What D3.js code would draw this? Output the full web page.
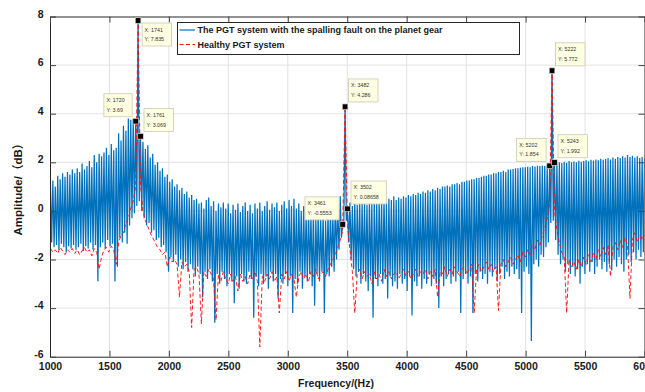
<!DOCTYPE html>
<html>
<head>
<meta charset="utf-8">
<script src="https://cdn.jsdelivr.net/npm/d3@7"></script>
<style>
  body { margin: 0; background: #fff; }
  svg { display: block; }
  text { font-family: "Liberation Sans", Arial, "Noto Sans CJK SC", sans-serif; }
</style>
</head>
<body>
<svg id="chart" width="645" height="392"></svg>
<script>
// Spectrum bins: 20.48 Hz apart, first shown bin is 49 (1003.5 Hz)
const binHz = 20.48;
const firstBin = 49;

const xTicks = [1000, 1500, 2000, 2500, 3000, 3500, 4000, 4500, 5000, 5500, 6000];
const yTicks = [-6, -4, -2, 0, 2, 4, 6, 8];

// Faulty gearbox: amplitude at each bin (dB), bins 49..293
const faultPeaks = [
  1.1, 1.25, 1.0, 1.45, 1.3, 1.55, 1.4, 1.6, 1.5, 1.7, 1.55, 1.75, 1.6, 1.95, 1.7, 1.85, 2.05, 1.8,
  2.3, 2.0, 2.35, 2.25, 2.4, 2.6, 2.3, 2.75, 2.5, 2.6, 3.2, 2.9, 3.5, 3.3, 3.8, 3.75, 3.8, 3.69,
  7.835, 3.069,
  2.85, 2.55, 2.7, 2.2, 2.35, 1.9, 2.0, 1.65, 1.75, 1.4, 1.5, 1.2, 1.3, 1.0, 1.1, 0.85, 0.95, 0.7,
  0.8, 0.55, 0.65, 0.45, 0.5, 0.3, 0.35, 0.1, 0.45, 0.55, 0.2, 0.4, 0.0, 0.3, 0.15, 0.35, 0.1, 0.3,
  -0.1, 0.25, 0.05, 0.3, -0.05, 0.2, 0.35, 0.0, 0.25, -0.1, 0.3, 0.1, 0.35, 0.0, 0.2, 0.4, 0.05, 0.3,
  0.15, 0.35, 0.0, 0.25, 0.4, 0.1, 0.45, 0.2, 0.5, 0.1, 0.3, 0.0, 0.2, -0.15, 0.1, -0.2, 0.05, -0.3,
  0.0, -0.35, -0.1, -0.4, -0.15, 0.1, -0.2, 0.35, 0.1, 0.6, -0.5553,
  4.286,
  0.08658, 0.35, 0.2, 0.4, 0.25, 0.45, 0.3, 0.4, 0.25, 0.45, 0.35, 0.5, 0.3, 0.45, 0.4, 0.55, 0.35,
  0.5, 0.45, 0.6, 0.45, 0.55, 0.5, 0.6, 0.55, 0.65, 0.6, 0.7, 0.65, 0.75, 0.7, 0.8, 0.75, 0.85, 0.8,
  0.9, 0.85, 0.95, 0.9, 1.0, 1.0, 1.05, 1.0, 1.1, 1.1, 1.15, 1.1, 1.2, 1.2, 1.25, 1.25, 1.3, 1.3,
  1.35, 1.35, 1.4, 1.45, 1.45, 1.5, 1.5, 1.55, 1.55, 1.6, 1.6, 1.65, 1.6, 1.7, 1.7, 1.72, 1.75, 1.75,
  1.78, 1.8, 1.8, 1.82, 1.8, 1.85, 1.83, 1.86, 1.85, 1.87, 1.85, 1.88, 1.854,
  5.772,
  1.992, 1.95, 2.0, 1.97, 2.02, 1.98, 2.05, 2.0, 2.03, 2.0, 2.06, 2.02, 2.05, 2.08, 2.04, 2.1, 2.07,
  2.12, 2.08, 2.15, 2.1, 2.14, 2.18, 2.12, 2.2, 2.15, 2.22, 2.18, 2.25, 2.2, 2.3, 2.22, 2.27, 2.2,
  2.25, 2.18, 2.22, 2.2
];

// Faulty gearbox: amplitude at the half bins in between (49.5..292.5)
const faultValleys = [
  -1.3, -1.5, -1.4, -1.6, -1.35, -1.5, -1.7, -1.45, -1.55, -1.4, -1.6, -1.5, -1.35, -1.65, -1.45,
  -1.55, -1.3, -1.6, -1.4, -2.9, -1.5, -1.3, -1.55, -1.2, -1.45, -1.35, -2.9, -2.3, -1.1, -1.3, -0.9,
  -1.35, -0.6, -0.3, -0.1, 0.2,
  0.4, 0.0, -0.3, -0.6, -0.5, -0.9, -0.8, -1.2, -1.1, -1.5, -1.4, -1.7, -2.5, -1.9, -2.1, -1.8, -2.3,
  -2.0, -2.4, -2.1, -2.5, -2.2, -2.4, -2.7, -2.3, -2.6, -3.55, -2.5, -2.8, -2.4, -2.9, -4.6, -2.6,
  -3.0, -2.5, -2.8, -3.1, -2.6, -2.9, -3.8, -2.7, -3.2, -2.6, -2.9, -3.0, -2.5, -2.8, -4.4, -2.7,
  -3.1, -2.6, -3.0, -2.7, -3.2, -2.5, -2.9, -2.6, -3.6, -2.8, -3.0, -2.6, -3.1, -2.7, -4.2, -2.8,
  -3.0, -2.5, -3.2, -2.7, -2.9, -2.6, -3.1, -3.9, -2.6, -2.9, -2.5, -4.2, -2.6, -2.7, -2.3, -2.5,
  -2.0, -1.6, -1.1, -0.4,
  -0.4, -1.3, -2.0, -2.4, -2.7, -2.5, -3.0, -2.6, -2.9, -3.3, -2.7, -4.4, -2.8, -3.1, -2.6, -3.0,
  -2.8, -3.6, -2.7, -3.1, -2.9, -3.2, -2.6, -3.0, -2.8, -3.3, -2.7, -4.3, -2.9, -3.1, -2.7, -3.2,
  -2.8, -3.0, -2.6, -3.1, -2.8, -3.0, -4.0, -2.7, -3.1, -2.8, -2.6, -3.0, -2.7, -2.9, -2.5, -4.2,
  -2.8, -2.6, -3.0, -2.7, -4.2, -2.6, -2.9, -2.5, -2.8, -2.6, -3.0, -2.5, -2.7, -2.4, -2.9, -2.6,
  -2.3, -2.8, -2.5, -2.7, -2.3, -2.6, -2.4, -2.8, -4.2, -2.5, -2.3, -2.6, -5.35, -2.2, -2.0, -2.3,
  -1.8, -1.9, -1.5, -1.3, -0.5,
  -0.4, -1.2, -1.8, -2.2, -2.0, -2.5, -2.2, -2.6, -2.3, -2.7, -2.4, -3.0, -2.3, -2.6, -2.2, -2.5,
  -2.1, -2.6, -2.3, -2.0, -2.4, -2.1, -2.5, -2.2, -2.45, -2.0, -2.3, -1.9, -2.2, -2.5, -2.0, -1.8,
  -2.1, -1.7, -2.0, -1.6, -1.9, -1.7
];

// Healthy gearbox: amplitude at each bin (dB), bins 49..293
const healthy = [
  -1.55, -1.7, -1.6, -1.75, -1.5, -1.65, -1.8, -1.6, -1.7, -1.55, -1.75, -1.6, -1.8, -1.65, -1.5,
  -1.7, -1.6, -1.85, -1.55, -1.7, -2.4, -1.9, -1.6, -1.5, -1.7, -1.45, -1.6, -2.2, -1.3, -1.0, -0.9,
  -0.5, -0.3, 0.1, 0.4, 1.0,
  7.835, 1.1,
  0.0, -0.4, -0.65, -0.9, -1.1, -1.3, -1.5, -1.6, -1.8, -1.7, -2.3, -1.9, -2.1, -2.0, -2.2, -3.55,
  -2.1, -2.3, -2.2, -2.5, -4.8, -2.4, -2.3, -2.6, -4.65, -2.5, -2.7, -2.4, -2.6, -2.8, -4.5, -2.6,
  -2.9, -2.5, -2.8, -3.0, -2.6, -2.9, -2.7, -3.3, -2.6, -2.9, -2.7, -3.0, -2.6, -2.8, -2.5, -2.9,
  -5.6, -2.7, -2.9, -2.6, -2.8, -2.5, -2.9, -2.7, -4.2, -2.6, -2.8, -2.5, -2.9, -2.6, -2.8, -3.55,
  -2.7, -2.5, -2.8, -2.6, -2.9, -2.5, -2.7, -2.4, -2.8, -2.6, -2.5, -2.7, -2.4, -2.2, -2.0, -1.8,
  -1.5, -1.2, -0.8,
  4.286,
  -0.6, -1.6, -2.5, -4.2, -2.6, -2.4, -2.8, -2.5, -2.7, -2.6, -3.0, -2.5, -2.8, -2.6, -2.9, -2.4,
  -2.7, -2.5, -2.8, -2.6, -2.5, -2.8, -2.6, -2.4, -2.7, -2.5, -2.8, -2.6, -2.4, -2.7, -2.5, -2.6,
  -2.4, -2.8, -2.5, -2.7, -2.4, -3.55, -2.5, -2.6, -2.3, -2.7, -2.4, -2.6, -2.3, -2.5, -2.7, -2.4,
  -2.3, -2.6, -2.4, -2.2, -4.2, -2.4, -2.2, -2.5, -2.3, -2.1, -2.4, -2.2, -2.5, -2.3, -4.1, -2.2,
  -2.0, -2.3, -2.1, -1.9, -2.2, -2.0, -1.8, -2.1, -1.7, -1.9, -1.6, -1.8, -1.4, -1.6, -1.2, -1.4,
  -1.0, -0.7, -0.3, 0.3,
  5.772,
  0.0, -0.8, -1.3, -1.7, -1.9, -4.2, -2.0, -2.3, -2.1, -2.4, -2.0, -2.3, -1.9, -2.2, -1.8, -2.1,
  -1.7, -2.0, -1.6, -1.9, -1.5, -1.8, -1.4, -2.7, -1.5, -1.3, -1.6, -1.2, -1.5, -1.1, -1.4, -3.6,
  -1.2, -0.9, -1.3, -1.0, -1.2, -0.9
];

// Data tips on the faulty spectrum: bin numbers and box side
const tipBins = [84, 85, 86, 169, 170, 171, 254, 255, 256];
const tipSides = ["ul", "lr", "ur", "ul", "ur", "ur", "ul", "ur", "ur"];

const seriesNames = [
  "The PGT system with the spalling fault on the planet gear",
  "Healthy PGT system"
];

const locale = d3.formatLocale({ decimal: ".", thousands: ",", grouping: [3], currency: ["", ""], minus: "-" });
const fmtTick = locale.format("d");
const fmtVal = locale.format(".4~g");

const svg = d3.select("#chart");
const plotL = 50, plotR = 644.5, plotT = 16.5, plotB = 356.7;
const x = d3.scaleLinear().domain([1000, 6000]).range([plotL, plotR]);
const y = d3.scaleLinear().domain([-6, 8]).range([plotB, plotT]);

const fault = [];
faultPeaks.forEach((v, i) => {
  fault.push([(firstBin + i) * binHz, v]);
  if (i < faultValleys.length) fault.push([(firstBin + i + 0.5) * binHz, faultValleys[i]]);
});
const healthySeries = healthy.map((v, i) => [(firstBin + i) * binHz, v]);

svg.append("rect").attr("width", 645).attr("height", 392).attr("fill", "#fff");

svg.append("defs").append("clipPath").attr("id", "plotClip")
  .append("rect").attr("x", plotL).attr("y", plotT).attr("width", plotR - plotL).attr("height", plotB - plotT);

// grid
const grid = svg.append("g").attr("stroke", "#e2e2e2").attr("stroke-width", 1);
grid.selectAll("line.gx").data(xTicks.slice(1, -1)).join("line").attr("class", "gx")
  .attr("x1", d => x(d)).attr("x2", d => x(d)).attr("y1", plotT).attr("y2", plotB);
grid.selectAll("line.gy").data(yTicks.slice(1, -1)).join("line").attr("class", "gy")
  .attr("x1", plotL).attr("x2", plotR).attr("y1", d => y(d)).attr("y2", d => y(d));

const line = d3.line().x(d => x(d[0])).y(d => y(d[1]));
const plot = svg.append("g").attr("clip-path", "url(#plotClip)");
plot.append("path").datum(fault).attr("d", line)
  .attr("fill", "none").attr("stroke", "#0072BD").attr("stroke-width", 1.25).attr("stroke-linejoin", "miter");
plot.append("path").datum(healthySeries).attr("d", line)
  .attr("fill", "none").attr("stroke", "#ff1010").attr("stroke-width", 1)
  .attr("stroke-dasharray", "4,2.5").attr("opacity", 0.95);

// axes (ticks point inward)
function styleAxis(g) {
  g.select(".domain").attr("stroke", "#262626").attr("stroke-width", 1);
  g.selectAll(".tick line").attr("stroke", "#444");
  g.selectAll(".tick text").attr("fill", "#1a1a1a").attr("font-size", "10.5px")
    .attr("font-weight", "bold").attr("font-family", "Liberation Sans, Arial, sans-serif");
}
svg.append("g").attr("transform", `translate(0,${plotB})`)
  .call(d3.axisBottom(x).tickValues(xTicks).tickFormat(fmtTick).tickSize(-6).tickSizeOuter(0).tickPadding(5.5))
  .call(styleAxis);
svg.append("g").attr("transform", `translate(${plotL},0)`)
  .call(d3.axisLeft(y).tickValues(yTicks).tickFormat(fmtTick).tickSize(-6).tickSizeOuter(0).tickPadding(6.5))
  .call(styleAxis)
  .selectAll(".tick text").attr("dy", "0.05em");
svg.append("g").attr("transform", `translate(0,${plotT})`)
  .call(d3.axisTop(x).tickValues(xTicks).tickFormat("").tickSize(-6).tickSizeOuter(0))
  .call(styleAxis);
svg.append("g").attr("transform", `translate(${plotR},0)`)
  .call(d3.axisRight(y).tickValues(yTicks).tickFormat("").tickSize(-6).tickSizeOuter(0))
  .call(styleAxis);

// axis titles
svg.append("text").attr("x", 336).attr("y", 387).attr("text-anchor", "middle")
  .attr("font-size", "10.5px").attr("font-weight", "bold").attr("fill", "#1a1a1a")
  .text("Frequency/(Hz)");
svg.append("text").attr("transform", `translate(22,${(plotT + plotB) / 2}) rotate(-90)`)
  .attr("text-anchor", "middle").attr("font-size", "11.5px").attr("font-weight", "bold").attr("fill", "#1a1a1a")
  .text("Amplitude/（dB）");

// data tips
const tips = svg.append("g");
tipBins.forEach((b, i) => {
  const v = faultPeaks[b - firstBin];
  const f = b * binHz;
  const mx = x(f), my = y(v);
  const g = tips.append("g");
  const box = g.append("rect").attr("fill", "#ffffe1").attr("stroke", "#c9c9b8").attr("stroke-width", 0.8);
  const lines = ["X: " + Math.round(f), "Y: " + fmtVal(v)];
  const texts = lines.map(s => g.append("text").attr("font-size", "5.3px").attr("fill", "#333").text(s));
  const w = d3.max(texts, t => t.node().getComputedTextLength()) + 10;
  const h = 23;
  let bx, by;
  if (tipSides[i] === "ul") { bx = mx - 3.5 - w; by = my - 4.5 - h; }
  else if (tipSides[i] === "lr") { bx = mx + 4; by = my + 2.5; }
  else { bx = mx + 3.5; by = my - 4.8 - h; }
  box.attr("x", bx).attr("y", by).attr("width", w).attr("height", h);
  texts[0].attr("x", bx + 2.5).attr("y", by + 8.5);
  texts[1].attr("x", bx + 2.5).attr("y", by + 18);
  g.append("rect").attr("x", mx - 2.8).attr("y", my - 2.8).attr("width", 5.6).attr("height", 5.6)
    .attr("fill", "#000").attr("stroke", "#d8d8c8").attr("stroke-width", 0.7);
});

// legend
const lg = svg.append("g");
lg.append("rect").attr("x", 177.5).attr("y", 22.5).attr("width", 342).attr("height", 32)
  .attr("fill", "#fff").attr("stroke", "#262626").attr("stroke-width", 1);
const legendStyles = [
  { color: "#0072BD", dash: null, width: 1.2 },
  { color: "#ff1010", dash: "4,2.5", width: 1 }
];
seriesNames.forEach((name, i) => {
  const ly = 30 + i * 14.5;
  lg.append("line").attr("x1", 179.5).attr("x2", 195).attr("y1", ly).attr("y2", ly)
    .attr("stroke", legendStyles[i].color).attr("stroke-width", legendStyles[i].width)
    .attr("stroke-dasharray", legendStyles[i].dash);
  lg.append("text").attr("x", 197.5).attr("y", ly + 3.4).attr("font-size", "9px")
    .attr("font-weight", "bold").attr("fill", "#1a1a1a").text(name);
});
</script>
</body>
</html>
